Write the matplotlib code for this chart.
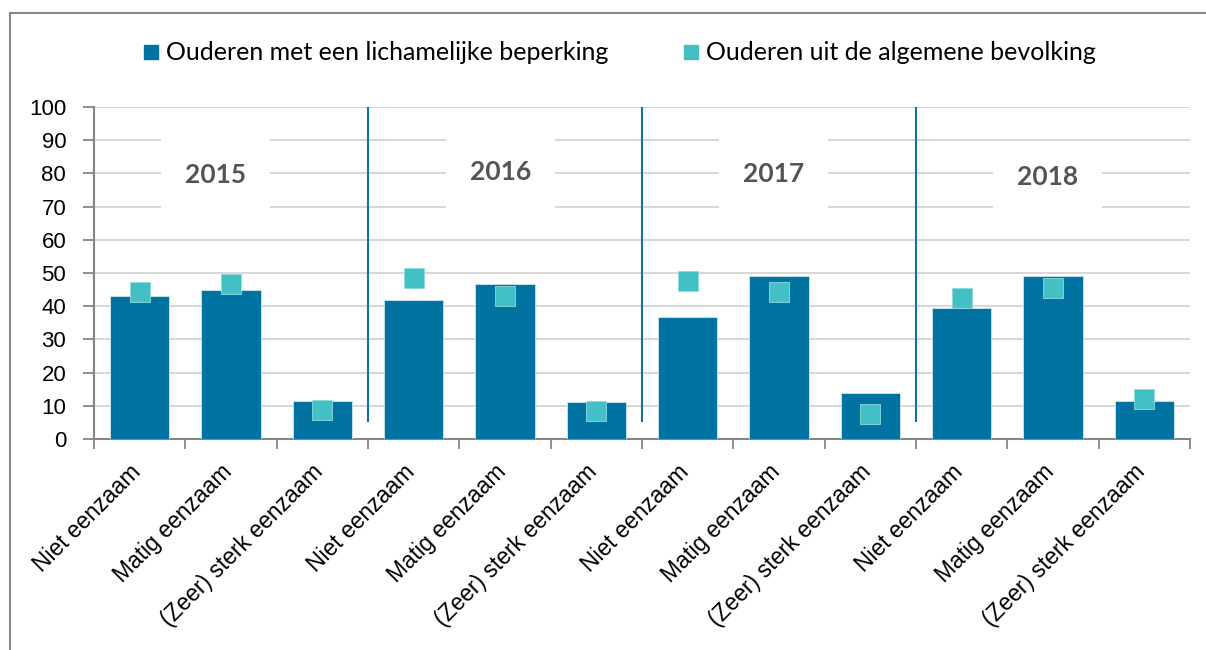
import numpy as np
import matplotlib
matplotlib.use("Agg")
import matplotlib.pyplot as plt
import matplotlib.transforms as mtransforms
from matplotlib.lines import Line2D
from matplotlib.patches import Rectangle

# data
years = ["2015", "2016", "2017", "2018"]
categories = ["Niet eenzaam", "Matig eenzaam", "(Zeer) sterk eenzaam"]
beperking = [43.2, 45.0, 11.5, 42.0, 46.6, 11.2, 36.7, 49.0, 14.0, 39.4, 49.1, 11.3]
bevolking = [44.4, 46.8, 8.7, 48.5, 43.0, 8.4, 47.7, 44.4, 7.6, 42.5, 45.5, 11.9]
series_names = ["Ouderen met een lichamelijke beperking", "Ouderen uit de algemene bevolking"]

bar_color = "#0073a0"
marker_color = "#42c0c5"
grid_color = "#d4d4d4"
axis_color = "#868686"

labels = categories * len(years)
x = np.arange(len(labels))

fig = plt.figure(figsize=(12.06, 6.5), dpi=100)
ax = fig.add_axes([94 / 1206, 1 - 439 / 650, (1190 - 94) / 1206, (439 - 107) / 650])

ax.bar(x, beperking, width=0.65, color=bar_color, edgecolor="#cfe6ef", linewidth=0.6, zorder=3)
ax.plot(x, bevolking, linestyle="none", marker="s", markersize=14.5,
        markerfacecolor=marker_color, markeredgecolor="#8fdadd", markeredgewidth=0.6, zorder=4)

# separators between years
ax.vlines([2.5, 5.5, 8.5], 5, 100, color="#0f76a3", linewidth=1.5, zorder=2)

# year labels inside the plot, masking the gridline
year_pos = [(0.83, 79.6), (3.95, 80.4), (6.94, 79.8), (9.94, 78.9)]
for yr, (xp, yp) in zip(years, year_pos):
    ax.text(xp, yp, yr, ha="center", va="center", fontsize=19, fontweight="bold",
            family="Lato", color="#545454", zorder=5,
            bbox=dict(boxstyle="square,pad=0.9", facecolor="white", edgecolor="none"))

ax.set_xlim(-0.5, len(labels) - 0.5)
ax.set_ylim(0, 100)
ax.set_yticks(np.arange(0, 101, 10))
ax.yaxis.grid(True, color=grid_color, linewidth=1.3, zorder=0)
ax.set_axisbelow(True)

ax.set_xticks(np.arange(-0.5, len(labels), 1))
ax.set_xticklabels([])
ax.set_xticks(x, minor=True)
ax.set_xticklabels(labels, minor=True, rotation=45, ha="right", va="top",
                   rotation_mode="anchor", fontsize=16.5, family="Liberation Sans")
ax.tick_params(axis="x", which="minor", length=0, pad=14)
ax.tick_params(axis="x", which="major", length=7, color=axis_color, width=1.3)
ax.tick_params(axis="y", length=8, color=axis_color, width=1.3, labelsize=16, pad=12)
for lab in ax.get_yticklabels():
    lab.set_family("Liberation Sans")

# nudge the slanted labels so they end under the bar centre
shift = mtransforms.ScaledTranslation(-11 / 100, -2 / 100, fig.dpi_scale_trans)
for lab in ax.get_xticklabels(minor=True):
    lab.set_transform(lab.get_transform() + shift)

for side in ["top", "right"]:
    ax.spines[side].set_visible(False)
for side in ["left", "bottom"]:
    ax.spines[side].set_color(axis_color)
    ax.spines[side].set_linewidth(1.5)

handles = [Line2D([], [], linestyle="none", marker="s", markersize=10, color=bar_color),
           Line2D([], [], linestyle="none", marker="s", markersize=10, color=marker_color)]
fig.legend(handles, series_names, loc="center", bbox_to_anchor=(0.514, 1 - 53 / 650), ncol=2,
           frameon=False, handlelength=0.6, handletextpad=0.3, columnspacing=3.0,
           prop={"family": "Lato", "size": 18})

# chart area border (clipped by the image edge)
fig.patches.append(Rectangle((10 / 1206, -0.05), 1.2, 1.05 - 13 / 650, transform=fig.transFigure,
                             fill=False, edgecolor="#888888", linewidth=1.5))

fig.savefig("out.png", dpi=100)
